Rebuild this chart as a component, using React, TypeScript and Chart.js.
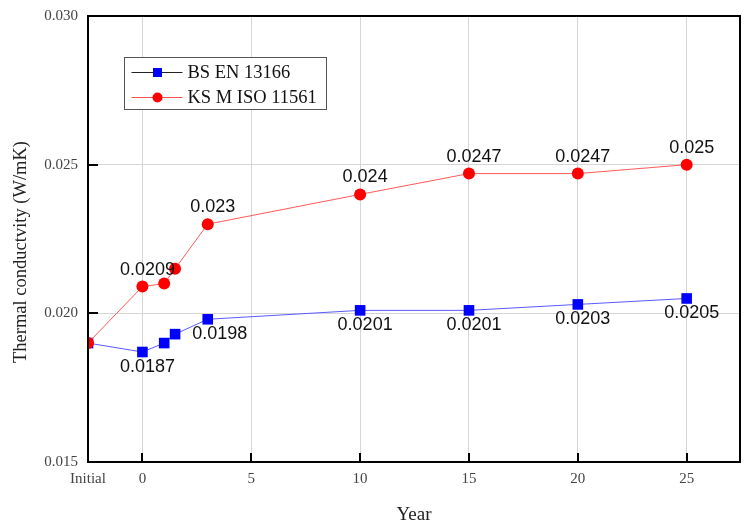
import { useEffect, useRef } from "react";
import { Chart, registerables } from "chart.js";

Chart.register(...registerables);

// ---- data ----
const years = [-2.5, 0, 1, 1.5, 3, 10, 15, 20, 25];
const bsEn13166 = [0.019, 0.0187, 0.019, 0.0193, 0.0198, 0.0201, 0.0201, 0.0203, 0.0205];
const ksMIso11561 = [0.019, 0.0209, 0.021, 0.0215, 0.023, 0.024, 0.0247, 0.0247, 0.025];
const xTickValues = [-2.5, 0, 5, 10, 15, 20, 25];
const xTickLabels = ["Initial", "0", "5", "10", "15", "20", "25"];
const yTickValues = [0.015, 0.02, 0.025, 0.03];
const labeledIndices = [1, 4, 5, 6, 7, 8];
const seriesNames = ["BS EN 13166", "KS M ISO 11561"];
const xTitle = "Year";
const yTitle = "Thermal conductvity (W/mK)";

const SERIF = "'Liberation Serif', 'DejaVu Serif', serif";
const SANS = "'Liberation Sans', Arial, sans-serif";

const decorPlugin = {
  id: "decor",
  afterDatasetsDraw(chart: any) {
    const ctx = chart.ctx;
    const { left, right, top, bottom } = chart.chartArea;
    const xs = chart.scales.x;
    const ys = chart.scales.y;
    ctx.save();

    // inner tick marks
    ctx.strokeStyle = "#000";
    ctx.lineWidth = 2;
    xTickValues.forEach((v) => {
      if (v < 0) return;
      const px = Math.round(xs.getPixelForValue(v));
      ctx.beginPath();
      ctx.moveTo(px, bottom);
      ctx.lineTo(px, bottom - 9);
      ctx.stroke();
    });
    yTickValues.forEach((v) => {
      if (v === ys.min || v === ys.max) return;
      const py = Math.round(ys.getPixelForValue(v));
      ctx.beginPath();
      ctx.moveTo(left, py);
      ctx.lineTo(left + 10, py);
      ctx.stroke();
    });

    // frame
    ctx.strokeRect(left, top, right - left, bottom - top);

    // value labels
    ctx.font = `18px ${SANS}`;
    ctx.fillStyle = "#111";
    ctx.textAlign = "center";
    ctx.textBaseline = "middle";
    const redMeta = chart.getDatasetMeta(0);
    const blueMeta = chart.getDatasetMeta(1);
    labeledIndices.forEach((i) => {
      const pr = redMeta.data[i];
      ctx.fillText(String(ksMIso11561[i]), pr.x + 5, pr.y - 17);
      const pb = blueMeta.data[i];
      const dx = i === 4 ? 12 : 5;
      ctx.fillText(String(bsEn13166[i]), pb.x + dx, pb.y + 15);
    });

    // legend box
    const lx = left + 36.5;
    const ly = top + 41.5;
    ctx.fillStyle = "#fff";
    ctx.fillRect(lx, ly, 202, 52);
    ctx.strokeStyle = "#555";
    ctx.lineWidth = 1;
    ctx.strokeRect(lx, ly, 202, 52);
    const rows = [
      { y: ly + 15, line: "#222", fill: "#0000ff", shape: "rect" },
      { y: ly + 40, line: "#ff5050", fill: "#ff0000", shape: "circle" },
    ];
    rows.forEach((r, k) => {
      ctx.strokeStyle = r.line;
      ctx.lineWidth = 1;
      ctx.beginPath();
      ctx.moveTo(lx + 7, r.y);
      ctx.lineTo(lx + 58, r.y);
      ctx.stroke();
      ctx.fillStyle = r.fill;
      if (r.shape === "rect") {
        ctx.fillRect(lx + 28.5, r.y - 4.5, 9, 9);
      } else {
        ctx.beginPath();
        ctx.arc(lx + 33, r.y, 5, 0, Math.PI * 2);
        ctx.fill();
      }
      ctx.fillStyle = "#111";
      ctx.font = `18.5px ${SERIF}`;
      ctx.textAlign = "left";
      ctx.textBaseline = "middle";
      ctx.fillText(seriesNames[k], lx + 63, r.y + 1);
    });

    // y axis title
    ctx.save();
    ctx.translate(21, (top + bottom) / 2 + 13);
    ctx.rotate(-Math.PI / 2);
    ctx.font = `18.5px ${SERIF}`;
    ctx.fillStyle = "#222";
    ctx.textAlign = "center";
    ctx.textBaseline = "middle";
    ctx.fillText(yTitle, 0, 0);
    ctx.restore();

    ctx.restore();
  },
};

export default function App() {
  const ref = useRef<HTMLCanvasElement | null>(null);

  useEffect(() => {
    if (!ref.current) return;
    const chart = new Chart(ref.current, {
      type: "line",
      data: {
        datasets: [
          {
            label: seriesNames[1],
            data: years.map((x, i) => ({ x, y: ksMIso11561[i] })),
            borderColor: "#ff5a5a",
            backgroundColor: "#ff0000",
            borderWidth: 1,
            pointStyle: "circle",
            pointRadius: 6,
            pointBorderWidth: 0,
            pointBackgroundColor: "#ff0000",
          },
          {
            label: seriesNames[0],
            data: years.map((x, i) => ({ x, y: bsEn13166[i] })),
            borderColor: "#5a5aff",
            backgroundColor: "#0000ff",
            borderWidth: 1,
            pointStyle: "rect",
            pointRadius: 7.5,
            pointBorderWidth: 0,
            pointBackgroundColor: "#0000ff",
          },
        ],
      },
      options: {
        responsive: false,
        animation: false,
        layout: { autoPadding: false, padding: { left: 0, right: 5, top: 16, bottom: 0 } },
        plugins: {
          legend: { display: false },
          tooltip: { enabled: false },
        },
        scales: {
          x: {
            type: "linear",
            min: -2.5,
            max: 27.45,
            afterBuildTicks: (s: any) => {
              s.ticks = xTickValues.map((v) => ({ value: v }));
            },
            afterFit: (s: any) => {
              s.height = 64;
              s.paddingLeft = 0;
              s.paddingRight = 0;
            },
            ticks: {
              autoSkip: false,
              maxRotation: 0,
              padding: 8,
              color: "#444",
              font: { family: SERIF, size: 15 },
              callback: (v: any) => {
                const i = xTickValues.indexOf(Number(v));
                return i >= 0 ? xTickLabels[i] : "";
              },
            },
            grid: {
              drawTicks: false,
              color: (c: any) => (c.tick && c.tick.value < 0 ? "rgba(0,0,0,0)" : "#d6d6d6"),
              lineWidth: 1,
            },
            border: { display: false },
            title: {
              display: true,
              text: xTitle,
              color: "#222",
              font: { family: SERIF, size: 19 },
              padding: { top: 0, bottom: 0 },
            },
          },
          y: {
            type: "linear",
            min: 0.015,
            max: 0.03,
            afterBuildTicks: (s: any) => {
              s.ticks = yTickValues.map((v) => ({ value: v }));
            },
            afterFit: (s: any) => {
              s.width = 88;
              s.paddingTop = 0;
              s.paddingBottom = 0;
            },
            ticks: {
              padding: 10,
              color: "#444",
              font: { family: SERIF, size: 15 },
              callback: (v: any) => Number(v).toFixed(3),
            },
            grid: {
              drawTicks: false,
              color: (c: any) =>
                c.tick && (c.tick.value <= 0.015 || c.tick.value >= 0.03) ? "rgba(0,0,0,0)" : "#d6d6d6",
              lineWidth: 1,
            },
            border: { display: false },
            title: { display: false },
          },
        },
      },
      plugins: [decorPlugin],
    } as any);
    return () => chart.destroy();
  }, []);

  return (
    <div style={{ position: "absolute", left: 0, top: 0, width: 745, height: 526, background: "#fff" }}>
      <canvas ref={ref} width={745} height={526} />
    </div>
  );
}
